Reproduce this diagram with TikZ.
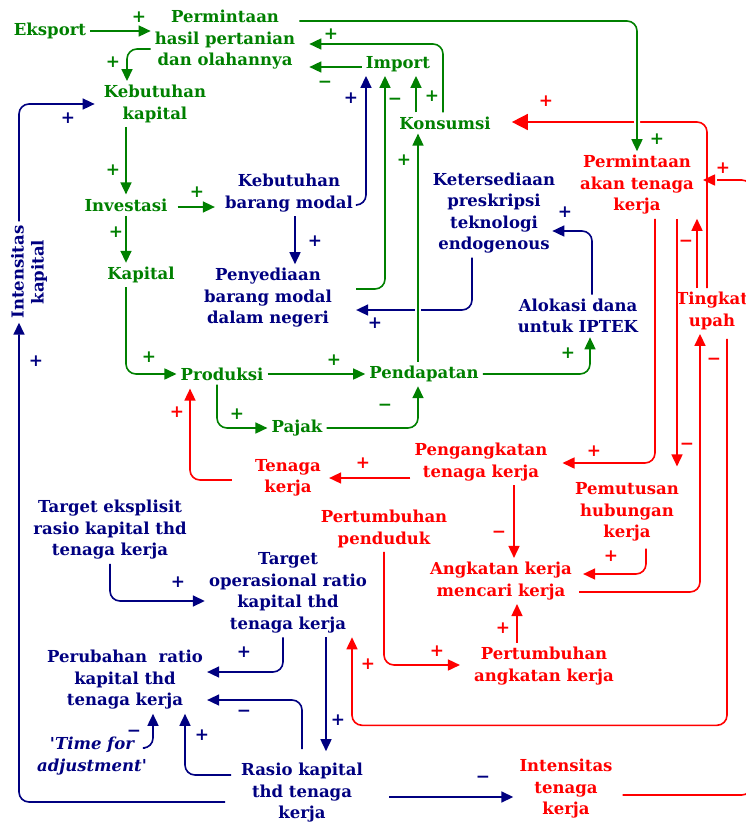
\documentclass[tikz,border=0pt]{standalone}
\usepackage{fontspec}
\setmainfont{DejaVu Serif}
\usetikzlibrary{arrows.meta,calc}
\definecolor{gc}{RGB}{0,128,0}
\definecolor{bc}{RGB}{0,0,128}
\definecolor{rc}{RGB}{255,0,0}
\tikzset{
  lbl/.style={align=center,font=\fontsize{16.5}{21.5}\selectfont\bfseries,inner sep=4pt},
  gn/.style={lbl,text=gc}, bn/.style={lbl,text=bc}, rn/.style={lbl,text=rc},
  sgn/.style={font=\fontsize{17}{17}\selectfont\bfseries,inner sep=0pt},
  con/.style={line width=1.6pt,rounded corners=10pt,-{Triangle[length=12pt,width=11pt]}},
  ga/.style={con,draw=gc}, ba/.style={con,draw=bc}, ra/.style={con,draw=rc},
  halo/.style={preaction={draw=white,line width=6pt,-}},
}
\begin{document}
\begin{tikzpicture}[x=1pt,y=-1pt]
\useasboundingbox (0,0) rectangle (746,825);
% green nodes
\node[gn] (gp) at (225,40) {Permintaan\\hasil pertanian\\dan olahannya};
\node[gn] (exp) at (50,31) {Eksport};
\node[gn] (imp) at (398,64) {Import};
\node[gn] (kk) at (155,104) {Kebutuhan\\kapital};
\node[gn] (kon) at (445,123) {Konsumsi};
\node[gn] (inv) at (126,205) {Investasi};
\node[gn] (kap) at (141,275) {Kapital};
\node[gn] (pro) at (222,374) {Produksi};
\node[gn] (pen) at (424,374) {Pendapatan};
\node[gn] (paj) at (297,428) {Pajak};
% blue nodes
\node[bn] (kbm) at (289,193) {Kebutuhan\\barang modal};
\node[bn] (pbm) at (268,298) {Penyediaan\\barang modal\\dalam negeri};
\node[bn] (ket) at (494,213) {Ketersediaan\\preskripsi\\teknologi\\endogenous};
\node[bn] (alo) at (578,316) {Alokasi dana\\untuk IPTEK};
\node[bn,rotate=90,font=\fontsize{16.5}{20}\selectfont\bfseries] (ik) at (29,272) {Intensitas\\kapital};
\node[bn] (tek) at (110,530) {Target eksplisit\\rasio kapital thd\\tenaga kerja};
\node[bn] (top) at (288,593) {Target\\operasional ratio\\kapital thd\\tenaga kerja};
\node[bn] (prt) at (125,680) {Perubahan\ \ ratio\\kapital thd\\tenaga kerja};
\node[bn,font=\fontsize{16.5}{21.5}\selectfont\bfseries\itshape] (tfa) at (92,756) {\textquotesingle Time for\\adjustment\textquotesingle};
\node[bn] (rkt) at (302,793) {Rasio kapital\\thd tenaga\\kerja};
% red nodes
\node[rn] (pat) at (637,185) {Permintaan\\akan tenaga\\kerja};
\node[rn] (tu) at (712,311) {Tingkat\\upah};
\node[rn] (pgk) at (481,462) {Pengangkatan\\tenaga kerja};
\node[rn] (tk) at (288,478) {Tenaga\\kerja};
\node[rn] (ppd) at (384,529) {Pertumbuhan\\penduduk};
\node[rn] (pmh) at (627,512) {Pemutusan\\hubungan\\kerja};
\node[rn] (akm) at (501,581) {Angkatan kerja\\mencari kerja};
\node[rn] (pak) at (544,666) {Pertumbuhan\\angkatan kerja};
\node[rn] (itk) at (566,789) {Intensitas\\tenaga\\kerja};

% blue connectors
\draw[ba] ($(kbm.east)+(0,12)$) -| ($(imp.south)+(-32,0)$);
\draw[ba] ($(kbm.south)+(6,0)$) -- ($(kbm.south |- pbm.north)+(6,0)$);
\draw[ba] ($(ket.south)+(-22,0)$) |- ($(pbm.east)+(20,12)$);
\draw[ba] ($(alo.north)+(14,0)$) |- ($(ket.east)+(-7,18)$);
\draw[ba] ($(rkt.west)+(-12,9)$) -| ($(ik.west)+(-10,0)$);
\draw[ba] ($(ik.east)+(-10,0)$) |- ($(kk.west)+(-5,0)$);
\draw[ba] ($(rkt.east)+(22,4)$) -- ($(rkt.east -| itk.west)+(-2,4)$);
\draw[ba] (tek.south) |- ($(top.west)+(0,8)$);
\draw[ba] ($(top.south)+(-5,0)$) |- ($(prt.east)+(0,-8)$);
\draw[ba] ($(top.south)+(38,0)$) -- ($(rkt.north -| top.south)+(38,-8)$);
\draw[ba] ($(rkt.north)+(0,-10)$) |- ($(prt.east)+(0,20)$);
\draw[ba] ($(rkt.west)+(-6,-18)$) -| ($(prt.south)+(60,0)$);
\draw[ba] ($(tfa.east)+(-6,-8)$) -| ($(prt.south)+(28,0)$);

% red connectors
\coordinate (rgap) at (717,180);
\draw[ra,-] ($(itk.east)+(6,6)$) -- ++(129,0) |- (rgap);
\draw[ra] ($(rgap)+(-7,0)$) -- ($(pat.east)+(5,-5)$);
\draw[ra,-{Triangle[length=16pt,width=16pt]}] ($(tu.north)+(-5,0)$) |- ($(kon.east)+(17,-1)$);
\draw[ra] ($(tu.north)+(-15,0)$) -- ($(pat.south -| tu.north)+(-15,0)$);
\draw[ra] ($(pat.south)+(18,0)$) |- ($(pgk.east)+(11,1)$);
\draw[ra] ($(pat.south)+(40,0)$) -- ($(pmh.north -| pat.south)+(40,-12)$);
\draw[ra] (tk.east -| pgk.west) -- ($(tk.east)+(4,0)$);
\draw[ra] ($(tk.west)+(-19,2)$) -| ($(pro.south)+(-32,4)$);
\draw[ra] ($(pgk.south)+(33,0)$) -- ($(akm.north -| pgk.south)+(33,0)$);
\draw[ra] ($(pmh.south)+(19,3)$) |- ($(akm.east)+(7,-7)$);
\draw[ra] ($(akm.east)+(3,11)$) -| ($(tu.south)+(-12,0)$);
\draw[ra] (ppd.south) |- ($(pak.west)+(-10,-1)$);
\draw[ra] ($(pak.north)+(-27,0)$) -- ($(akm.south -| pak.north)+(-27,0)$);
\draw[ra] ($(tu.south)+(15,5)$) |- ($(top.south)+(64,88)$) -- ($(top.south)+(64,0)$);

% green connectors
\draw[ga] (exp.east) -- (exp.east -| gp.west);
\draw[ga] ($(gp.west)+(0,9)$) -| ($(kk.north)+(-28,0)$);
\draw[ga] (inv.north |- kk.south) -- (inv.north);
\draw[ga] ($(inv.east)+(6,2)$) -- ($(inv.east -| kbm.west)+(-6,2)$);
\draw[ga] (inv.south) -- (inv.south |- kap.north);
\draw[ga] (inv.south |- kap.south) |- (pro.west);
\draw[ga] (pro.east) -- (pen.west);
\draw[ga] ($(pro.south)+(-5,0)$) |- (paj.west);
\draw[ga] (paj.east) -| ($(pen.south)+(-6,0)$);
\draw[ga] (pen.east) -| ($(alo.south)+(12,0)$);
\draw[ga] ($(kon.north)+(-29,0)$) -- ($(imp.south -| kon.north)+(-29,0)$);
\draw[ga] ($(kon.north)+(-2,0)$) |- ($(gp.east)+(10,4)$);
\draw[ga] ($(imp.west)+(0,3)$) -- ($(imp.west -| gp.east)+(10,3)$);
\draw[ga,halo] ($(gp.east)+(0,-19)$) -| (pat.north);
\draw[ga] ($(pbm.east)+(20,-9)$) -| ($(imp.south)+(-13,0)$);
\draw[ga,halo] ($(pen.north)+(-6,0)$) -- ($(kon.south -| pen.north)+(-6,0)$);

% polarity signs
\foreach \x/\y/\s [count=\i] in {139/17/+,113/62/+,113/170/+,197/192/+,116/232/+,149/357/+,334/360/+,237/414/+,385/407/−,404/160/+,568/353/+,432/96/+,331/34/+,325/84/−,657/139/+,395/101/−}
  \node[sgn,text=gc] (sg\i) at (\x,\y) {\s};
\foreach \x/\y/\s [count=\i] in {351/98/+,315/241/+,375/323/+,565/212/+,36/361/+,68/118/+,483/779/−,178/582/+,244/652/+,338/720/+,244/713/−,202/735/+,134/733/−}
  \node[sgn,text=bc] (sb\i) at (\x,\y) {\s};
\foreach \x/\y/\s [count=\i] in {546/101/+,723/168/+,686/243/−,594/451/+,687/446/−,363/463/+,177/412/+,499/534/−,611/556/+,714/361/−,437/651/+,503/628/+,368/664/+}
  \node[sgn,text=rc] (sr\i) at (\x,\y) {\s};
\end{tikzpicture}
\end{document}
